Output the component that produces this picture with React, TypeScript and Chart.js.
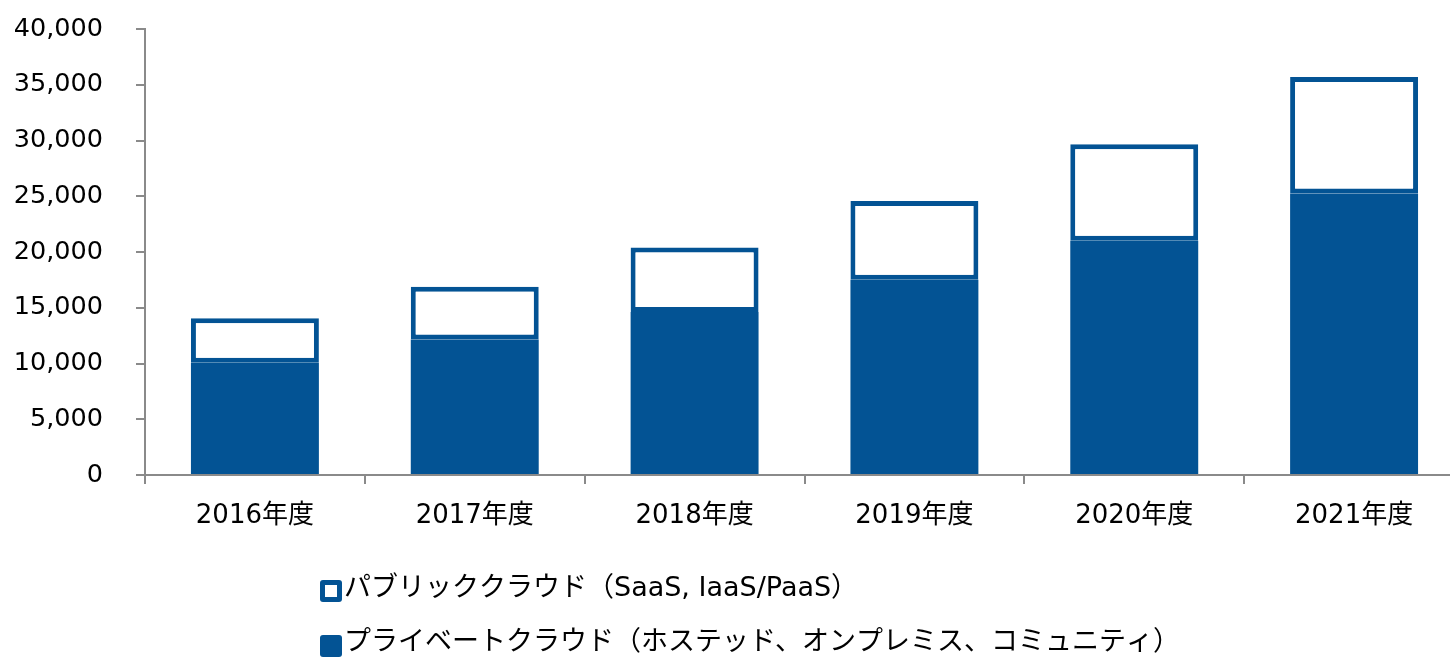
import React, { useEffect, useRef } from "react";
import { Chart, registerables } from "chart.js";

Chart.register(...registerables);

const categories = ["2016年度", "2017年度", "2018年度", "2019年度", "2020年度", "2021年度"];
const privateCloud = [10070, 12160, 14610, 17520, 21000, 25240];
const publicCloud = [3980, 4720, 5790, 7060, 8670, 10450];
const seriesLabels = [
  "プライベートクラウド（ホステッド、オンプレミス、コミュニティ）",
  "パブリッククラウド（SaaS, IaaS/PaaS）",
];
const yTicks = [0, 5000, 10000, 15000, 20000, 25000, 30000, 35000, 40000];

const BLUE = "#035394";
const GRAY = "#8a8a8a";
const FONT = '"DejaVu Sans", "Noto Sans CJK JP", sans-serif';

const legendPlugin = {
  id: "customLegend",
  afterDraw(chart: any) {
    const ctx = chart.ctx;
    const ds = chart.data.datasets;
    const rows = [
      { d: ds[1], y: 580, ty: 589 },
      { d: ds[0], y: 635, ty: 643 },
    ];
    ctx.save();
    ctx.font = `27px ${FONT}`;
    ctx.textBaseline = "middle";
    ctx.textAlign = "left";
    rows.forEach((r) => {
      const x = 320;
      const s = 22;
      ctx.fillStyle = r.d.borderColor;
      ctx.beginPath();
      ctx.roundRect(x, r.y, s, s, 3);
      ctx.fill();
      if (r.d.backgroundColor === "#ffffff") {
        ctx.fillStyle = "#ffffff";
        ctx.fillRect(x + 5, r.y + 5, s - 10, s - 10);
      }
      ctx.fillStyle = "#000000";
      ctx.fillText(r.d.label, 344, r.ty);
    });
    ctx.restore();
  },
};

export default function App() {
  const ref = useRef<HTMLCanvasElement>(null);
  useEffect(() => {
    if (!ref.current) return;
    const chart = new Chart(ref.current, {
      type: "bar",
      data: {
        labels: categories,
        datasets: [
          {
            label: seriesLabels[0],
            data: privateCloud,
            backgroundColor: BLUE,
            borderColor: BLUE,
            borderWidth: 0,
            barPercentage: 0.582,
            categoryPercentage: 1,
          },
          {
            label: seriesLabels[1],
            data: publicCloud,
            backgroundColor: "#ffffff",
            borderColor: BLUE,
            borderWidth: 5,
            borderSkipped: false,
            barPercentage: 0.582,
            categoryPercentage: 1,
          },
        ],
      },
      plugins: [legendPlugin],
      options: {
        animation: false,
        responsive: false,
        maintainAspectRatio: false,
        layout: { padding: { left: 0, right: 16, top: 29, bottom: 0 } },
        plugins: { legend: { display: false }, tooltip: { enabled: false } },
        scales: {
          x: {
            stacked: true,
            z: 1,
            grid: {
              display: true,
              drawOnChartArea: false,
              offset: true,
              tickLength: 9,
              color: GRAY,
              lineWidth: 2,
            },
            border: { display: true, color: GRAY, width: 2 },
            ticks: { color: "#000", font: { family: FONT, size: 26 }, padding: 17, maxRotation: 0 },
            afterFit: (s: any) => {
              s.height = 658 - 29 - 475 + 29;
              s.paddingTop = 0;
              s.paddingBottom = 0;
            },
          },
          y: {
            stacked: true,
            min: 0,
            max: 40000,
            afterBuildTicks: (s: any) => {
              s.ticks = yTicks.map((v) => ({ value: v }));
            },
            grid: {
              display: true,
              drawOnChartArea: false,
              tickLength: 9,
              color: GRAY,
              lineWidth: 2,
            },
            border: { display: true, color: GRAY, width: 2 },
            ticks: {
              color: "#000",
              font: { family: FONT, size: 25.5 },
              padding: 33,
              callback: (v: any) => Number(v).toLocaleString("en-US"),
            },
            afterFit: (s: any) => {
              s.width = 145;
              s.paddingTop = 0;
              s.paddingBottom = 0;
            },
          },
        },
      },
    });
    return () => chart.destroy();
  }, []);
  return (
    <div style={{ position: "fixed", left: 0, top: 0, width: 1450, height: 658, overflow: "hidden", background: "#fff" }}>
      <canvas ref={ref} width={1480} height={658} style={{ display: "block", width: 1480, height: 658 }} />
    </div>
  );
}
